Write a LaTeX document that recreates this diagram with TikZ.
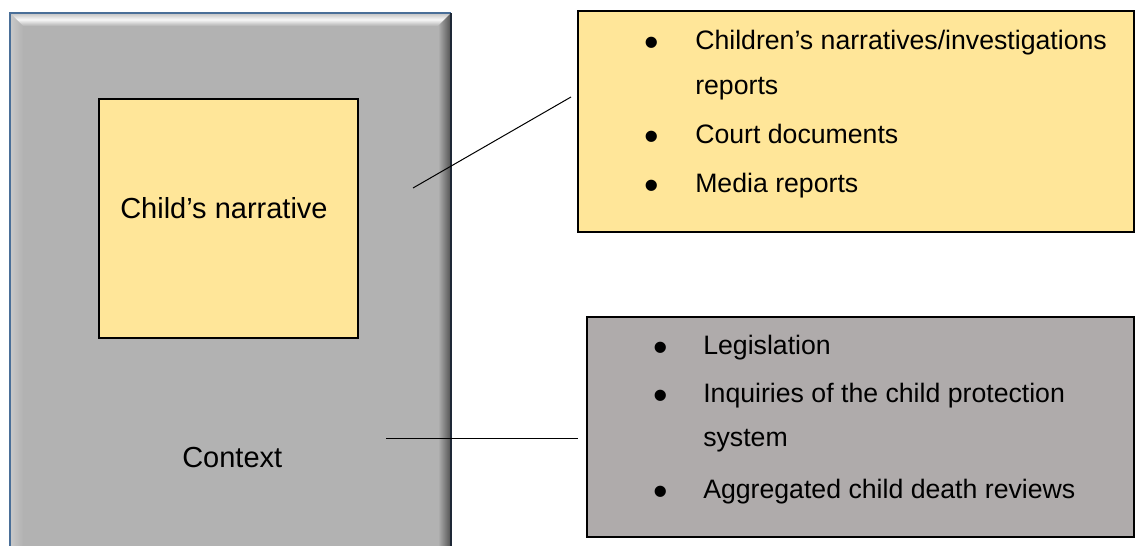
\documentclass[tikz,border=0pt]{standalone}
\usepackage{fontspec}
\setmainfont{Liberation Sans}
\definecolor{paleyellow}{HTML}{FFE699}
\definecolor{warmgrey}{HTML}{AFABAB}
\definecolor{framegrey}{HTML}{B2B2B2}
\definecolor{frameblue}{HTML}{4A6F98}
\definecolor{framedark}{HTML}{1E2836}
\tikzset{
  listtext/.style={anchor=base west,inner sep=0pt,font=\fontsize{20}{24}\selectfont},
  bul/.style={anchor=center,inner sep=0pt,font=\fontsize{31}{34}\selectfont},
  bigtext/.style={anchor=base west,inner sep=0pt,font=\fontsize{21.75}{26}\selectfont},
  link/.style={draw=black,line width=0.75pt}
}
\begin{document}
\begin{tikzpicture}[x=0.75pt,y=-0.75pt]
  \path[use as bounding box] (0,0) rectangle (1135,546);
  \clip (0,0) rectangle (1135,546);

  % bevelled context frame
  \fill[framegrey] (10,13) rectangle (451,558);
  \shade[top color=framegrey!80!white,bottom color=framegrey,middle color=white!90!framegrey]
    (10,13) -- (451,13) -- (438,26) -- (23,26) -- cycle;
  \shade[left color=framegrey!70!white,right color=framegrey]
    (10,13) -- (23,26) -- (23,545) -- (10,558) -- cycle;
  \shade[left color=framegrey,right color=framegrey!45!black]
    (451,13) -- (438,26) -- (438,545) -- (451,558) -- cycle;
  \draw[frameblue,line width=1.5pt] (10,558) -- (10,13) -- (451,13);
  \draw[framedark,line width=1.5pt] (451,13) -- (451,558);

  \begin{scope}[every node/.style={draw=black,line width=0.8pt,inner sep=0pt}]
    \node[fill=paleyellow,minimum width=194.25pt,minimum height=179.25pt] (narr) at (228.5,218.5) {};
    \node[fill=paleyellow,minimum width=417pt,minimum height=165.75pt] (docs) at (856,121.5) {};
    \node[fill=warmgrey,minimum width=410.25pt,minimum height=165pt] (inqs) at (860.5,427) {};
  \end{scope}

  \node[bigtext] (narrlabel) at (120,218) {Child’s narrative};
  \node[bigtext] (ctxlabel) at (182,467) {Context};

  \node[bul] (b1) at (651.5,46.6) {•};
  \node[listtext] (t1) at (695,49) {Children’s narratives/investigations};
  \node[listtext] (t1b) at (695,94) {reports};
  \node[bul] (b2) at (651.5,140.6) {•};
  \node[listtext] (t2) at (695,143) {Court documents};
  \node[bul] (b3) at (651.5,189.6) {•};
  \node[listtext] (t3) at (695,192) {Media reports};

  \node[bul] (b4) at (661,351.6) {•};
  \node[listtext] (t4) at (703,354) {Legislation};
  \node[bul] (b5) at (661,399.6) {•};
  \node[listtext] (t5) at (703,402) {Inquiries of the child protection};
  \node[listtext] (t5b) at (703,446) {system};
  \node[bul] (b6) at (661,495.6) {•};
  \node[listtext] (t6) at (703,498) {Aggregated child death reviews};

  \coordinate (n1) at (413,188);
  \coordinate (n2) at (571,97);
  \coordinate (c1) at (386,438);
  \coordinate (c2) at (578,438);
  \path[link] (n1) -- (n2);
  \path[link] (c1) -- (c2);
\end{tikzpicture}
\end{document}
